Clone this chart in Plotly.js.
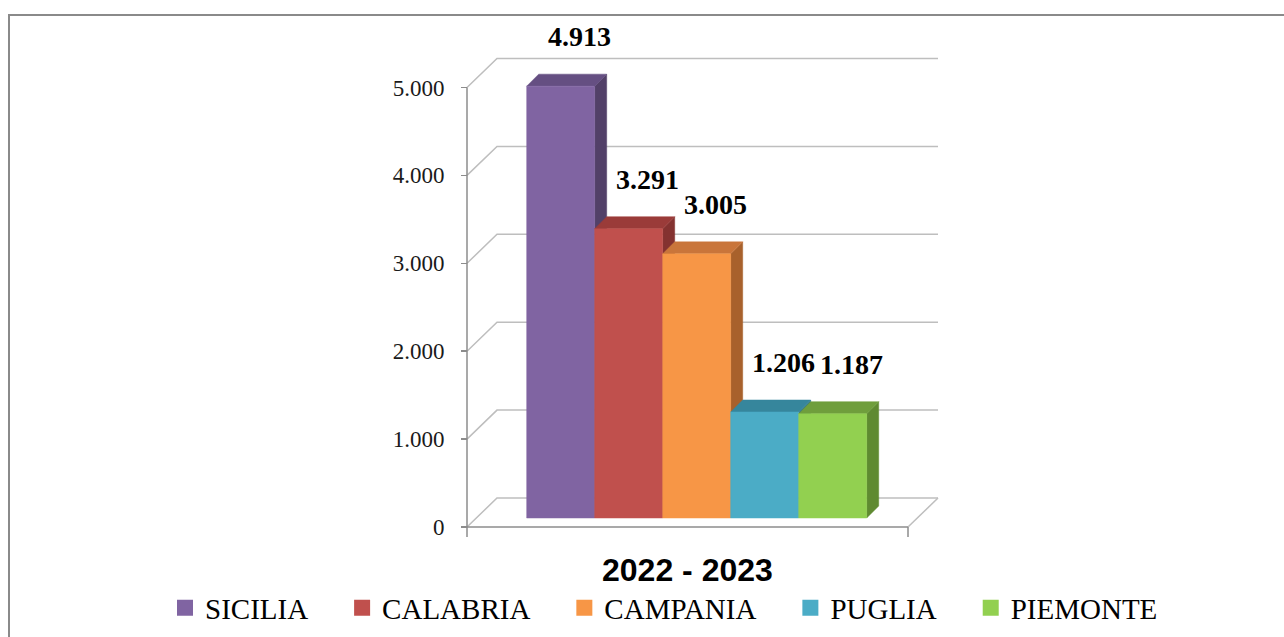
<!DOCTYPE html>
<html>
<head>
<meta charset="utf-8">
<script src="https://cdn.plot.ly/plotly-3.0.1.min.js"></script>
<style>
  html, body { margin: 0; padding: 0; background: #ffffff; }
  #chart { width: 1284px; height: 637px; }
</style>
</head>
<body>
<div id="chart"></div>
<script>
// ---------------- DATA ----------------
const categories = ['SICILIA', 'CALABRIA', 'CAMPANIA', 'PUGLIA', 'PIEMONTE'];
const values = [4913, 3291, 3005, 1206, 1187];
const groupLabel = '2022 - 2023';
const tickValues = [0, 1000, 2000, 3000, 4000, 5000];
const tickLabels = ['0', '1.000', '2.000', '3.000', '4.000', '5.000'];

// ---------------- STYLE ----------------
const frontColors = ['#8064A2', '#C0504D', '#F79646', '#4BACC6', '#92D050'];
const topColors   = ['#654F82', '#9A3B39', '#C9753A', '#36869C', '#6F9E3C'];
const sideColors  = ['#524068', '#843230', '#A8612C', '#2F7488', '#5F8A31'];
const gridColor = '#BEBEBE';
const axisColor = '#8C8C8C';
const serif = 'Liberation Serif, Times New Roman, serif';

// ---------------- GEOMETRY (pixel -> data units) ----------------
const W = 1284, H = 637;
const X_UNIT = 68;          // px per category
const X_C0 = 560.7;         // px centre of first bar
const Y_K = 0.0879;         // px per value unit
const Y_BASE = 518;         // px of bar baseline
const xRange = [-X_C0 / X_UNIT, (W - X_C0) / X_UNIT];
const yRange = [-(H - Y_BASE) / Y_K, Y_BASE / Y_K];
const floorL = (467 - X_C0) / X_UNIT;
const floorR = (908 - X_C0) / X_UNIT;
const frontOff = (Y_BASE - 527) / Y_K;
const DX = 30 / X_UNIT, DY = 29 / Y_K;       // wall depth
const BDX = 12 / X_UNIT, BDY = 12 / Y_K;     // bar depth
const tickDown = 10 / Y_K;

function fmt(n) { return String(n).replace(/\B(?=(\d{3})+(?!\d))/g, '.'); }

const traces = [];

// back wall gridlines + left wall diagonals
const gx = [], gy = [];
tickValues.forEach(v => {
  const yf = v + frontOff, yb = yf + DY;
  gx.push(floorL, floorL + DX, floorR + DX, null);
  gy.push(yf, yb, yb, null);
});
// floor right diagonal
gx.push(floorR + DX, floorR, null);
gy.push(frontOff + DY, frontOff, null);
traces.push({type: 'scatter', mode: 'lines', x: gx, y: gy, hoverinfo: 'skip',
  line: {color: gridColor, width: 1.5}, showlegend: false});

// axis lines: left vertical, floor front edge, bottom ticks
const maxTick = tickValues[tickValues.length - 1];
traces.push({type: 'scatter', mode: 'lines', hoverinfo: 'skip', showlegend: false,
  x: [floorL, floorL, null, floorL, floorR, null, floorL, floorL, null, floorR, floorR],
  y: [frontOff + maxTick, frontOff, null, frontOff, frontOff, null, frontOff, frontOff - tickDown, null, frontOff, frontOff - tickDown],
  line: {color: axisColor, width: 1.5}});

// bars (side, top, front) in order
values.forEach((v, i) => {
  const x0 = i - 0.5, x1 = i + 0.5;
  traces.push({type: 'scatter', mode: 'lines', fill: 'toself', hoverinfo: 'skip', showlegend: false,
    x: [x1, x1 + BDX, x1 + BDX, x1, x1], y: [0, BDY, v + BDY, v, 0],
    fillcolor: sideColors[i], line: {color: sideColors[i], width: 0.5}});
  traces.push({type: 'scatter', mode: 'lines', fill: 'toself', hoverinfo: 'skip', showlegend: false,
    x: [x0, x1, x1 + BDX, x0 + BDX, x0], y: [v, v, v + BDY, v + BDY, v],
    fillcolor: topColors[i], line: {color: topColors[i], width: 0.5}});
  traces.push({type: 'scatter', mode: 'lines', fill: 'toself', name: categories[i], showlegend: false,
    x: [x0, x1, x1, x0, x0], y: [0, 0, v, v, 0],
    fillcolor: frontColors[i], line: {color: frontColors[i], width: 0.5}});
});

// legend entries
categories.forEach((c, i) => {
  traces.push({type: 'scatter', mode: 'markers', x: [null], y: [null],
    name: c + (i < categories.length - 1 ? '\u00a0\u00a0\u00a0\u00a0' : ''),
    marker: {symbol: 'square', size: 16, color: frontColors[i]}, showlegend: true});
});

// axis for tick labels (front axis)
traces.push({type: 'scatter', mode: 'markers', x: [null], y: [null], yaxis: 'y2', showlegend: false, hoverinfo: 'skip'});

const annotations = values.map((v, i) => ({
  x: i + 0.27, y: v + 560, xref: 'x', yref: 'y', text: fmt(v), showarrow: false,
  xanchor: 'center', yanchor: 'middle',
  font: {family: serif, size: 28, color: '#000', weight: 'bold'}
}));
annotations.push({
  x: 688 / W, y: 1 - 570 / H, xref: 'paper', yref: 'paper', text: '<b>' + groupLabel + '</b>', showarrow: false,
  xanchor: 'center', yanchor: 'middle',
  font: {family: 'Liberation Sans, Arial, sans-serif', size: 32, color: '#000'}
});

const layout = {
  width: W, height: H,
  margin: {l: 0, r: 0, t: 0, b: 0},
  paper_bgcolor: '#ffffff', plot_bgcolor: '#ffffff',
  xaxis: {range: xRange, visible: false, fixedrange: true, domain: [0, 1]},
  yaxis: {range: yRange, visible: false, fixedrange: true, domain: [0, 1]},
  yaxis2: {range: [yRange[0] - frontOff, yRange[1] - frontOff], overlaying: 'y', anchor: 'free',
    position: 467 / W, side: 'left', showgrid: false, zeroline: false, showline: false,
    tickvals: tickValues, ticktext: tickLabels, ticks: 'outside', ticklen: 6, tickwidth: 1.5,
    tickcolor: axisColor, ticklabelstandoff: 12, fixedrange: true,
    tickfont: {family: serif, size: 23, color: '#1a1a1a'}},
  showlegend: true,
  legend: {orientation: 'h', x: 165 / W, xanchor: 'left', y: 1 - 608 / H, yanchor: 'middle',
    font: {family: serif, size: 29, color: '#000'},
    bgcolor: 'rgba(0,0,0,0)', itemclick: false, itemdoubleclick: false},
  annotations: annotations,
  shapes: [{type: 'rect', xref: 'paper', yref: 'paper', x0: 9 / W, x1: 1.02, y0: -0.02, y1: 1 - 15 / H,
    line: {color: '#8A8A8A', width: 2}, fillcolor: 'rgba(0,0,0,0)', layer: 'below'}],
  hovermode: false
};

Plotly.newPlot('chart', traces, layout, {displayModeBar: false, staticPlot: true});
</script>
</body>
</html>
